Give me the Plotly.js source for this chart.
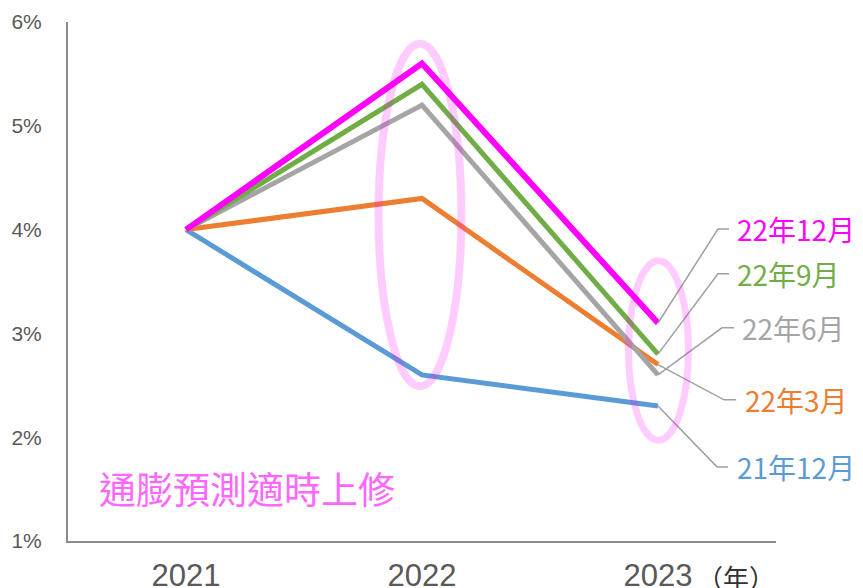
<!DOCTYPE html>
<html>
<head>
<meta charset="utf-8">
<script src="https://cdn.plot.ly/plotly-3.0.1.min.js"></script>
<style>html,body{margin:0;padding:0;background:#fff;}#chart{width:863px;height:588px;}</style>
</head>
<body>
<div id="chart"></div>
<script>
// ---- data ----
const years = ['2021', '2022', '2023'];
const seriesNames = ['21年12月', '22年3月', '22年6月', '22年9月', '22年12月'];
const forecastDec21 = [4.0, 2.6, 2.3];
const forecastMar22 = [4.0, 4.3, 2.7];
const forecastJun22 = [4.0, 5.2, 2.6];
const forecastSep22 = [4.0, 5.4, 2.8];
const forecastDec22 = [4.0, 5.6, 3.1];
const yTickVals = [1, 2, 3, 4, 5, 6];
const yTickText = ['1%', '2%', '3%', '4%', '5%', '6%'];
const noteText = '通膨預測適時上修';
const yearUnit = '（年）';

// ---- styles ----
const allSeries = [forecastDec21, forecastMar22, forecastJun22, forecastSep22, forecastDec22];
const colors = ['#5B9BD5', '#ED7D31', '#A5A5A5', '#70AD47', '#FF00FF'];
const widths = [5, 5, 5, 5, 6];
// label placement (elbow x, end x, label y, label x) in axis units
const labelPos = [
  {ex: 2.250, hx: 2.297, ly: 1.714, lx: 2.326},
  {ex: 2.280, hx: 2.331, ly: 2.360, lx: 2.360},
  {ex: 2.271, hx: 2.322, ly: 3.054, lx: 2.347},
  {ex: 2.254, hx: 2.301, ly: 3.575, lx: 2.326},
  {ex: 2.254, hx: 2.301, ly: 4.005, lx: 2.326}
];

const traces = allSeries.map((vals, i) => ({
  type: 'scatter', mode: 'lines', x: years, y: vals, name: seriesNames[i],
  line: {color: colors[i], width: widths[i]}, hoverinfo: 'skip'
}));

const shapes = [];
const annotations = [];
allSeries.forEach((vals, i) => {
  const p = labelPos[i];
  const last = vals[vals.length - 1];
  shapes.push({
    type: 'path', xref: 'x', yref: 'y', layer: 'above',
    path: `M 2,${last} L ${p.ex},${p.ly} L ${p.hx},${p.ly}`,
    line: {color: '#A0A0A0', width: 1.5}
  });
  annotations.push({
    xref: 'x', yref: 'y', x: p.lx, y: p.ly, xanchor: 'left', yanchor: 'middle',
    text: seriesNames[i], showarrow: false,
    font: {family: 'Noto Sans CJK TC, Noto Sans CJK JP, sans-serif', size: 28, color: colors[i]}
  });
});

// highlight ellipses
shapes.push({type: 'circle', xref: 'x', yref: 'y', x0: 0.816, x1: 1.167, y0: 2.49, y1: 5.79,
  line: {color: 'rgba(255,0,255,0.2)', width: 8}, layer: 'above'});
shapes.push({type: 'circle', xref: 'x', yref: 'y', x0: 1.875, x1: 2.129, y0: 1.97, y1: 3.70,
  line: {color: 'rgba(255,0,255,0.2)', width: 7}, layer: 'above'});

annotations.push({
  xref: 'x', yref: 'y', x: 0.257, y: 1.51, xanchor: 'center', yanchor: 'middle',
  text: noteText, showarrow: false,
  font: {family: 'Noto Sans CJK TC, sans-serif', size: 37, color: '#FF66FF'}
});
annotations.push({
  xref: 'x', yref: 'paper', x: 2.161, y: -0.068, xanchor: 'left', yanchor: 'middle',
  text: yearUnit, showarrow: false, borderpad: 0,
  font: {family: 'Noto Sans CJK TC, sans-serif', size: 26, color: '#333333'}
});

const layout = {
  width: 863, height: 588,
  margin: {l: 68, r: 87, t: 22, b: 47, pad: 0},
  paper_bgcolor: '#fff', plot_bgcolor: '#fff',
  showlegend: false,
  xaxis: {
    type: 'category', range: [-0.5, 2.5], showgrid: false, zeroline: false,
    showline: true, linecolor: '#8C8C8C', linewidth: 2,
    ticks: 'outside', ticklen: 6, tickcolor: 'rgba(0,0,0,0)',
    tickfont: {family: 'Liberation Sans Narrow, Arial Narrow, sans-serif', size: 31, color: '#595959'}
  },
  yaxis: {
    range: [1, 6], tickmode: 'array', tickvals: yTickVals, ticktext: yTickText,
    showgrid: false, zeroline: false,
    showline: true, linecolor: '#8C8C8C', linewidth: 2,
    ticks: 'outside', ticklen: 20, tickcolor: 'rgba(0,0,0,0)',
    tickfont: {family: 'Liberation Sans, Arial, sans-serif', size: 21, color: '#595959'}
  },
  shapes: shapes,
  annotations: annotations
};

Plotly.newPlot('chart', traces, layout, {displayModeBar: false, staticPlot: true});
</script>
</body>
</html>
